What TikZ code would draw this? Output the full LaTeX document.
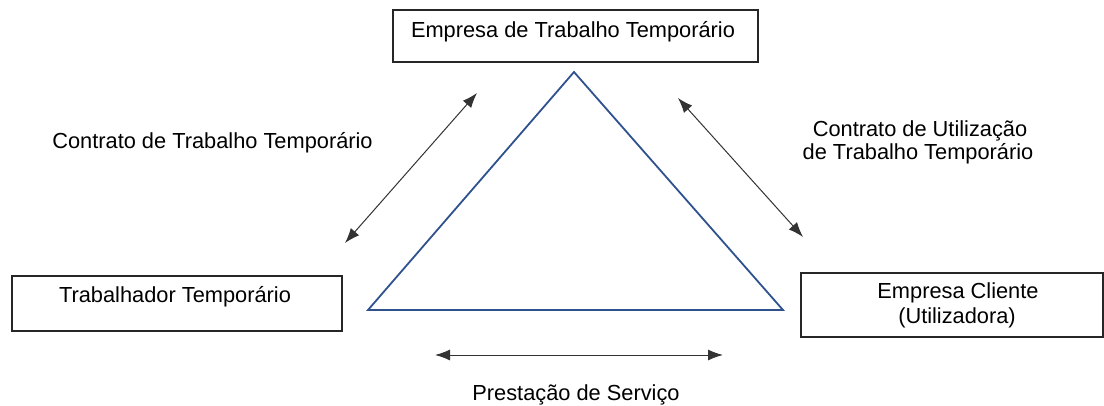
\documentclass[tikz,border=0pt]{standalone}
\usepackage{fontspec}
\setmainfont{Liberation Sans}
\usetikzlibrary{arrows.meta,positioning}
\definecolor{triblue}{RGB}{47,82,143}

\begin{document}
\begin{tikzpicture}[x=1pt,y=-1pt,
    box/.style={draw=black!85,line width=1.3pt,inner sep=0pt},
    txt/.style={anchor=base,inner sep=0pt,font=\fontsize{21.8}{26}\selectfont},
    rel/.style={{Latex[length=15pt,width=11pt]}-{Latex[length=15pt,width=11pt]},line width=1pt,black!80}]
     \useasboundingbox (0,0) rectangle (1104,405);
     % the three parties
     \node[box,minimum width=365pt,minimum height=52pt] (ett) at (575.5,36) {};
     \node[box,minimum width=330pt,minimum height=55pt] (tt) at (177,303.5) {};
     \node[box,minimum width=302pt,minimum height=64pt] (ec) at (952,305) {};
     \node[txt] (ettl) at (573,37) {Empresa de Trabalho Temporário};
     \node[txt] (ttl) at (175,302) {Trabalhador Temporário};
     \node[txt] (ecl1) at (958,298) {Empresa Cliente};
     \node[txt] (ecl2) at (957,323) {(Utilizadora)};

     % triangle
     \coordinate (top) at (574,72);
     \coordinate (bl) at (368,310);
     \coordinate (br) at (783,310);
     \draw[triblue,line width=1.8pt,line join=miter] (top) -- (bl) -- (br) -- cycle;

     % contracts
     \coordinate (a1) at (345,243);
     \coordinate (a2) at (477,93);
     \coordinate (b1) at (678,98);
     \coordinate (b2) at (803,237);
     \coordinate (c1) at (435,355);
     \coordinate (c2) at (723,355);
     \draw[rel] (a1) -- (a2);
     \draw[rel] (b1) -- (b2);
     \draw[rel] (c1) -- (c2);
     \node[txt] (ctt) at (212.5,148) {Contrato de Trabalho Temporário};
     \node[txt] (cut1) at (920,136) {Contrato de Utilização};
     \node[txt] (cut2) at (918,159) {de Trabalho Temporário};
     \node[txt] (ps) at (576,400) {Prestação de Serviço};
\end{tikzpicture}
\end{document}
